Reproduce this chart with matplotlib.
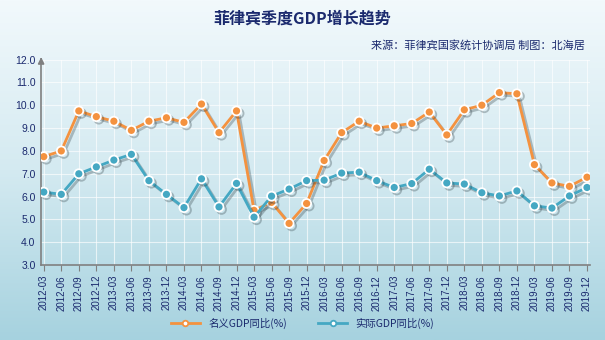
import numpy as np
import matplotlib
matplotlib.use('Agg')
import matplotlib.pyplot as plt
import matplotlib.patheffects as pe

plt.rcParams['font.family'] = ['Liberation Sans', 'Noto Sans CJK SC', 'DejaVu Sans']

# 季度
quarters = ['2012-03', '2012-06', '2012-09', '2012-12', '2013-03', '2013-06', '2013-09', '2013-12',
            '2014-03', '2014-06', '2014-09', '2014-12', '2015-03', '2015-06', '2015-09', '2015-12',
            '2016-03', '2016-06', '2016-09', '2016-12', '2017-03', '2017-06', '2017-09', '2017-12',
            '2018-03', '2018-06', '2018-09', '2018-12', '2019-03', '2019-06', '2019-09', '2019-12']
# 名义GDP同比
nominal = [7.75, 8.0, 9.75, 9.5, 9.3, 8.9, 9.3, 9.45, 9.25, 10.05, 8.8, 9.75, 5.4, 5.75, 4.83, 5.7,
           7.58, 8.8, 9.3, 9.0, 9.1, 9.2, 9.7, 8.7, 9.8, 10.0, 10.55, 10.5, 7.4, 6.6, 6.45, 6.85]
# 实际GDP同比
real = [6.2, 6.1, 7.0, 7.3, 7.6, 7.85, 6.7, 6.1, 5.52, 6.78, 5.55, 6.58, 5.1, 6.02, 6.33, 6.7,
        6.72, 7.03, 7.07, 6.7, 6.4, 6.57, 7.2, 6.6, 6.55, 6.17, 6.03, 6.25, 5.6, 5.5, 6.03, 6.4]
yticks = [3.0, 4.0, 5.0, 6.0, 7.0, 8.0, 9.0, 10.0, 11.0, 12.0]

navy = '#1b2a6e'
orange = '#f4923f'
teal = '#45a8c3'

fig = plt.figure(figsize=(6.05, 3.4), dpi=100)

# 背景渐变
bg = fig.add_axes([0, 0, 1, 1], zorder=-10)
grad = np.linspace(0, 1, 256).reshape(-1, 1)
cmap = matplotlib.colors.LinearSegmentedColormap.from_list('bg', ['#f2f9fc', '#d4eaf1', '#a6d2df'])
bg.imshow(grad, aspect='auto', cmap=cmap, extent=[0, 1, 0, 1], origin='upper')
bg.axis('off')

ax = fig.add_axes([0.068, 0.22, 0.908, 0.605])
ax.patch.set_alpha(0)
x = np.arange(len(quarters))

shadow = [pe.SimpleLineShadow(offset=(1.8, -1.8), shadow_color='#2a3a40', alpha=0.3), pe.Normal()]
ax.plot(x, nominal, color=orange, lw=2, marker='o', ms=6.5, mfc=orange, mec='white', mew=1.3,
        label='名义GDP同比(%)', path_effects=shadow, zorder=3)
ax.plot(x, real, color=teal, lw=2, marker='o', ms=6.5, mfc=teal, mec='white', mew=1.3,
        label='实际GDP同比(%)', path_effects=shadow, zorder=3)

ax.set_xlim(-0.15, 31.2)
ax.set_ylim(3, 12)
ax.set_yticks(yticks)
ax.set_yticklabels(['%.1f' % v for v in yticks], fontsize=7.5, color=navy)
ax.set_xticks(x)
ax.set_xticklabels(quarters, rotation=90, fontsize=7, color=navy)
ax.grid(True, color='white', lw=0.8, alpha=0.65)
ax.set_axisbelow(True)
for s in ['top', 'right']:
    ax.spines[s].set_visible(False)
for s in ['left', 'bottom']:
    ax.spines[s].set_color('#808080')
    ax.spines[s].set_linewidth(1.2)
ax.tick_params(axis='y', length=0, pad=4)
ax.tick_params(axis='x', length=4, color='#808080', pad=3)
ax.annotate('', xy=(0, 1.025), xytext=(0, 0.98), xycoords='axes fraction',
            arrowprops=dict(arrowstyle='-|>', color='#808080', lw=1.2, mutation_scale=9))

fig.text(0.5, 0.93, '菲律宾季度GDP增长趋势', ha='center', fontsize=11.5, fontweight='bold', color=navy,
         family=['Noto Sans CJK SC', 'DejaVu Sans'])
fig.text(0.967, 0.858, '来源：菲律宾国家统计协调局 制图：北海居', ha='right', fontsize=8, style='italic',
         color=navy, family=['Noto Sans CJK SC', 'DejaVu Sans'])

leg = fig.legend(loc='center', bbox_to_anchor=(0.5, 0.05), ncol=2, frameon=False, fontsize=7.5,
                 handlelength=2.8, columnspacing=3, prop={'family': ['Noto Sans CJK SC', 'DejaVu Sans'], 'size': 7.5})
for t in leg.get_texts():
    t.set_color(navy)
for h in leg.legend_handles:
    h.set_markersize(4)
    h.set_markerfacecolor('white')
    h.set_markeredgecolor(h.get_color())
    h.set_path_effects([])

fig.savefig('out.png', dpi=100)
